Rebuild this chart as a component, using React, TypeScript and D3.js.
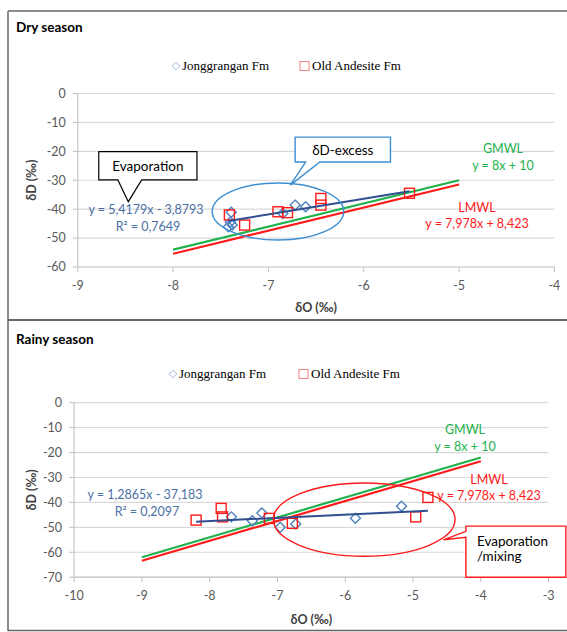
import React from "react";
import * as d3 from "d3";

const W = 567;
const H = 632;

// ---------- Dry season data ----------
const dryJongX = [-7.39, -7.4, -7.38, -7.42, -6.85, -6.72, -6.61];
const dryJongY = [-41.1, -44.4, -45.5, -46.1, -41.5, -38.6, -39.2];
const dryAndX = [-7.41, -7.25, -6.9, -6.8, -6.45, -6.45, -5.52];
const dryAndY = [-42.0, -45.5, -40.9, -41.2, -36.3, -38.6, -34.5];
const dryTrendCoef = [5.4179, -3.8793];
const dryEqLabels = ["y = 5,4179x - 3,8793", "R\u00B2 = 0,7649"];
const dryXTicks = [-9, -8, -7, -6, -5, -4];
const dryYTicks = [0, -10, -20, -30, -40, -50, -60];
const dryMwlRange = [-8, -5];

// ---------- Rainy season data ----------
const rainJongX = [-7.68, -7.37, -7.23, -6.96, -6.73, -5.85, -5.17];
const rainJongY = [-45.8, -47.4, -44.2, -50.0, -48.7, -46.4, -41.5];
const rainAndX = [-8.2, -7.83, -7.81, -7.12, -6.78, -4.96, -4.78];
const rainAndY = [-47.1, -42.4, -45.8, -46.4, -48.4, -45.8, -38.0];
const rainTrendCoef = [1.2865, -37.183];
const rainEqLabels = ["y = 1,2865x - 37,183", "R\u00B2 = 0,2097"];
const rainXTicks = [-10, -9, -8, -7, -6, -5, -4, -3];
const rainYTicks = [0, -10, -20, -30, -40, -50, -60, -70];
const rainMwlRange = [-9, -4];

// ---------- Meteoric water lines ----------
const gmwlCoef = [8, 10];
const lmwlCoef = [7.978, 8.423];
const gmwlLabels = ["GMWL", "y = 8x + 10"];
const lmwlLabels = ["LMWL", "y = 7,978x + 8,423"];
const legendLabels = ["Jonggrangan Fm", "Old Andesite Fm"];

const SANS = "Lato, 'Open Sans', sans-serif";
const SERIF = "'Liberation Serif', 'DejaVu Serif', serif";
const C_BLUE = "#4f81bd";
const C_TREND = "#2f4f8f";
const C_EQ = "#4a6fa5";
const C_GREEN = "#22b14c";
const C_RED = "#ff1a1a";
const C_GRID = "#d9d9d9";
const C_AXIS = "#bfbfbf";
const C_TICK = "#595959";

type PanelProps = {
  title: string;
  titleY: number;
  legendY: number;
  legendX: [number, number];
  xDomain: [number, number];
  xRange: [number, number];
  yDomain: [number, number];
  yRange: [number, number];
  xTicks: number[];
  yTicks: number[];
  jx: number[];
  jy: number[];
  ax: number[];
  ay: number[];
  trend: number[];
  eqLabels: string[];
  eqPos: [number, number];
  mwlRange: number[];
  gmwlPos: [number, number];
  lmwlPos: [number, number];
  xTitleY: number;
  yTitleX: number;
  children?: (x: d3.ScaleLinear<number, number>, y: d3.ScaleLinear<number, number>) => React.ReactNode;
};

function Panel(p: PanelProps) {
  const x = d3.scaleLinear().domain(p.xDomain).range(p.xRange);
  const y = d3.scaleLinear().domain(p.yDomain).range(p.yRange);

  const mwl = (coef: number[]) =>
    d3
      .line<number>()
      .x((d) => x(d))
      .y((d) => y(coef[0] * d + coef[1]))(p.mwlRange) || "";

  const allX = [...p.jx, ...p.ax];
  const tx = d3.extent(allX) as [number, number];
  const trendPath =
    d3
      .line<number>()
      .x((d) => x(d))
      .y((d) => y(p.trend[0] * d + p.trend[1]))(tx) || "";

  const [x0, x1] = p.xRange;
  const yBottom = y(p.yDomain[0]);
  const yMid = (p.yRange[0] + p.yRange[1]) / 2;

  const diamond = (cx: number, cy: number, r: number) =>
    `M${cx},${cy - r}L${cx + r},${cy}L${cx},${cy + r}L${cx - r},${cy}Z`;

  return (
    <g>
      <text x={16} y={p.titleY} fontFamily={SANS} fontWeight={700} fontSize={13.5} fill="#000">
        {p.title}
      </text>
      {/* legend */}
      <path d={diamond(p.legendX[0], p.legendY - 4, 3.8)} fill="none" stroke="#9db8e0" strokeWidth={1} />
      <text x={p.legendX[0] + 6} y={p.legendY} fontFamily={SERIF} fontSize={13} fill="#000">
        {legendLabels[0]}
      </text>
      <rect x={p.legendX[1] - 4} y={p.legendY - 8.5} width={9} height={9} fill="none" stroke="#f08080" strokeWidth={1} />
      <text x={p.legendX[1] + 8} y={p.legendY} fontFamily={SERIF} fontSize={13} fill="#000">
        {legendLabels[1]}
      </text>

      {/* gridlines */}
      {p.yTicks.map((t) => (
        <g key={"g" + t}>
          {t !== p.yDomain[0] && (
            <line x1={x0} x2={x1} y1={y(t)} y2={y(t)} stroke={C_GRID} strokeWidth={1.2} />
          )}
          <line x1={x0 - 5} x2={x0} y1={y(t)} y2={y(t)} stroke={C_AXIS} strokeWidth={1} />
          <text
            x={x0 - 12}
            y={y(t)}
            dy="0.35em"
            textAnchor="end"
            fontFamily={SANS}
            fontSize={12.5}
            fill={C_TICK}
          >
            {t}
          </text>
        </g>
      ))}
      <line x1={x0} x2={x0} y1={p.yRange[1]} y2={yBottom} stroke={C_AXIS} strokeWidth={1} />
      <line x1={x0} x2={x1} y1={yBottom} y2={yBottom} stroke={C_AXIS} strokeWidth={1.2} />
      {p.xTicks.map((t) => (
        <g key={"x" + t}>
          <line x1={x(t)} x2={x(t)} y1={yBottom} y2={yBottom + 5} stroke={C_AXIS} strokeWidth={1} />
          <text
            x={x(t)}
            y={yBottom + 23}
            textAnchor="middle"
            fontFamily={SANS}
            fontSize={12.5}
            fill={C_TICK}
          >
            {t}
          </text>
        </g>
      ))}
      <text
        x={(x0 + x1) / 2}
        y={p.xTitleY}
        textAnchor="middle"
        fontFamily={SANS}
        fontWeight={700}
        fontSize={12.5}
        fill="#404040"
      >
        δO (‰)
      </text>
      <text
        transform={`translate(${p.yTitleX},${yMid}) rotate(-90)`}
        textAnchor="middle"
        fontFamily={SANS}
        fontWeight={700}
        fontSize={12.5}
        fill="#404040"
      >
        δD (‰)
      </text>

      {/* meteoric water lines */}
      <path d={mwl(gmwlCoef)} stroke={C_GREEN} strokeWidth={2.2} fill="none" />
      <path d={mwl(lmwlCoef)} stroke={C_RED} strokeWidth={2.2} fill="none" />

      {/* data */}
      {p.jx.map((v, i) => (
        <path key={"j" + i} d={diamond(x(v), y(p.jy[i]), 5)} fill="none" stroke={C_BLUE} strokeWidth={1.4} />
      ))}
      {p.ax.map((v, i) => (
        <rect
          key={"a" + i}
          x={x(v) - 5}
          y={y(p.ay[i]) - 5}
          width={10}
          height={10}
          fill="none"
          stroke={C_RED}
          strokeWidth={1.4}
        />
      ))}
      <path d={trendPath} stroke={C_TREND} strokeWidth={2} fill="none" />

      {/* equation */}
      <text x={p.eqPos[0]} y={p.eqPos[1]} textAnchor="middle" fontFamily={SANS} fontSize={12.5} fill={C_EQ}>
        {p.eqLabels[0]}
      </text>
      <text x={p.eqPos[0] + 2} y={p.eqPos[1] + 17} textAnchor="middle" fontFamily={SANS} fontSize={12.5} fill={C_EQ}>
        {p.eqLabels[1]}
      </text>
      <text x={p.gmwlPos[0]} y={p.gmwlPos[1]} textAnchor="middle" fontFamily={SANS} fontSize={12.5} fill={C_GREEN}>
        {gmwlLabels[0]}
      </text>
      <text x={p.gmwlPos[0]} y={p.gmwlPos[1] + 17} textAnchor="middle" fontFamily={SANS} fontSize={12.5} fill={C_GREEN}>
        {gmwlLabels[1]}
      </text>
      <text x={p.lmwlPos[0]} y={p.lmwlPos[1]} textAnchor="middle" fontFamily={SANS} fontSize={12.5} fill={C_RED}>
        {lmwlLabels[0]}
      </text>
      <text x={p.lmwlPos[0]} y={p.lmwlPos[1] + 16} textAnchor="middle" fontFamily={SANS} fontSize={12.5} fill={C_RED}>
        {lmwlLabels[1]}
      </text>
      {p.children && p.children(x, y)}
    </g>
  );
}

export default function App() {
  return (
    <svg
      width={W}
      height={H}
      style={{ position: "absolute", left: 0, top: 0, background: "#fff" }}
    >
      <rect x={0} y={0} width={W} height={H} fill="#fff" />
      <Panel
        title="Dry season"
        titleY={32}
        legendY={70}
        legendX={[176, 304]}
        xDomain={[-9, -4]}
        xRange={[77.8, 554.4]}
        yDomain={[-60, 0]}
        yRange={[267, 93.5]}
        xTicks={dryXTicks}
        yTicks={dryYTicks}
        jx={dryJongX}
        jy={dryJongY}
        ax={dryAndX}
        ay={dryAndY}
        trend={dryTrendCoef}
        eqLabels={dryEqLabels}
        eqPos={[146, 214]}
        mwlRange={dryMwlRange}
        gmwlPos={[503, 153]}
        lmwlPos={[477, 212]}
        xTitleY={312}
        yTitleX={36}
      >
        {(x, y) => {
          // ellipse around delta-D excess cluster
          const ecx = x(-6.9), ecy = y(-40.8);
          const erx = x(-6.9 + 0.69) - ecx;
          const ery = y(-40.8 - 9.86) - ecy;
          // δD-excess callout
          const bx0 = x(-6.72), bx1 = x(-5.72), by0 = y(-15.1), by1 = y(-23.7);
          const tb0 = x(-6.61), tb1 = x(-6.46), tipx = x(-6.77), tipy = y(-31.7);
          // Evaporation callout
          const ex0 = x(-8.78), ex1 = x(-7.75), ey0 = y(-20.1), ey1 = y(-29.9);
          const eb0 = x(-8.58), eb1 = x(-8.33), etx = x(-8.47), ety = y(-37.4);
          return (
            <g>
              <ellipse cx={ecx} cy={ecy} rx={erx} ry={ery} fill="none" stroke="#3d8fd1" strokeWidth={1.4} />
              <path
                d={`M${bx0},${by0}H${bx1}V${by1}H${tb1}L${tipx},${tipy}L${tb0},${by1}H${bx0}Z`}
                fill="#fff"
                stroke="#3d8fd1"
                strokeWidth={1.4}
              />
              <text x={(bx0 + bx1) / 2} y={(by0 + by1) / 2 + 5} textAnchor="middle" fontFamily={SANS} fontSize={13.5} fill="#000">
                δD-excess
              </text>
              <path
                d={`M${ex0},${ey0}H${ex1}V${ey1}H${eb1}L${etx},${ety}L${eb0},${ey1}H${ex0}Z`}
                fill="#fff"
                stroke="#000"
                strokeWidth={1.2}
              />
              <text x={(ex0 + ex1) / 2} y={(ey0 + ey1) / 2 + 5} textAnchor="middle" fontFamily={SANS} fontSize={13.5} fill="#000">
                Evaporation
              </text>
            </g>
          );
        }}
      </Panel>
      <Panel
        title="Rainy season"
        titleY={344}
        legendY={378}
        legendX={[173, 303]}
        xDomain={[-10, -3]}
        xRange={[74.1, 548.6]}
        yDomain={[-70, 0]}
        yRange={[577.2, 402.7]}
        xTicks={rainXTicks}
        yTicks={rainYTicks}
        jx={rainJongX}
        jy={rainJongY}
        ax={rainAndX}
        ay={rainAndY}
        trend={rainTrendCoef}
        eqLabels={rainEqLabels}
        eqPos={[145, 499]}
        mwlRange={rainMwlRange}
        gmwlPos={[465, 434]}
        lmwlPos={[489, 484]}
        xTitleY={624}
        yTitleX={36}
      >
        {(x, y) => {
          const ecx = x(-5.72), ecy = y(-46.9);
          const erx = x(-5.72 + 1.34) - ecx;
          const ery = y(-46.9 - 14.7) - ecy;
          const bx0 = x(-4.22), bx1 = x(-2.745), by0 = y(-49.5), by1 = y(-70);
          const tb0 = y(-51.6), tb1 = y(-54.0), tipx = x(-4.55), tipy = y(-55.0);
          return (
            <g>
              <ellipse cx={ecx} cy={ecy} rx={erx} ry={ery} fill="none" stroke={C_RED} strokeWidth={1.4} />
              <path
                d={`M${bx0},${by0}H${bx1}V${by1}H${bx0}V${tb1}L${tipx},${tipy}L${bx0},${tb0}Z`}
                fill="#fff"
                stroke={C_RED}
                strokeWidth={1.4}
              />
              <text x={bx0 + 11} y={by0 + 20} fontFamily={SANS} fontSize={13.5} fill="#000">
                Evaporation
              </text>
              <text x={bx0 + 11} y={by0 + 35} fontFamily={SANS} fontSize={13.5} fill="#000">
                /mixing
              </text>
            </g>
          );
        }}
      </Panel>

      {/* frame */}
      <g stroke="#666" fill="none">
        <line x1={8} x2={W} y1={11} y2={11} strokeWidth={1.5} />
        <line x1={8} x2={8} y1={11} y2={631} strokeWidth={1.5} />
        <line x1={8} x2={W} y1={320} y2={320} strokeWidth={2} />
        <line x1={8} x2={W} y1={630.5} y2={630.5} strokeWidth={1.5} />
      </g>
    </svg>
  );
}
